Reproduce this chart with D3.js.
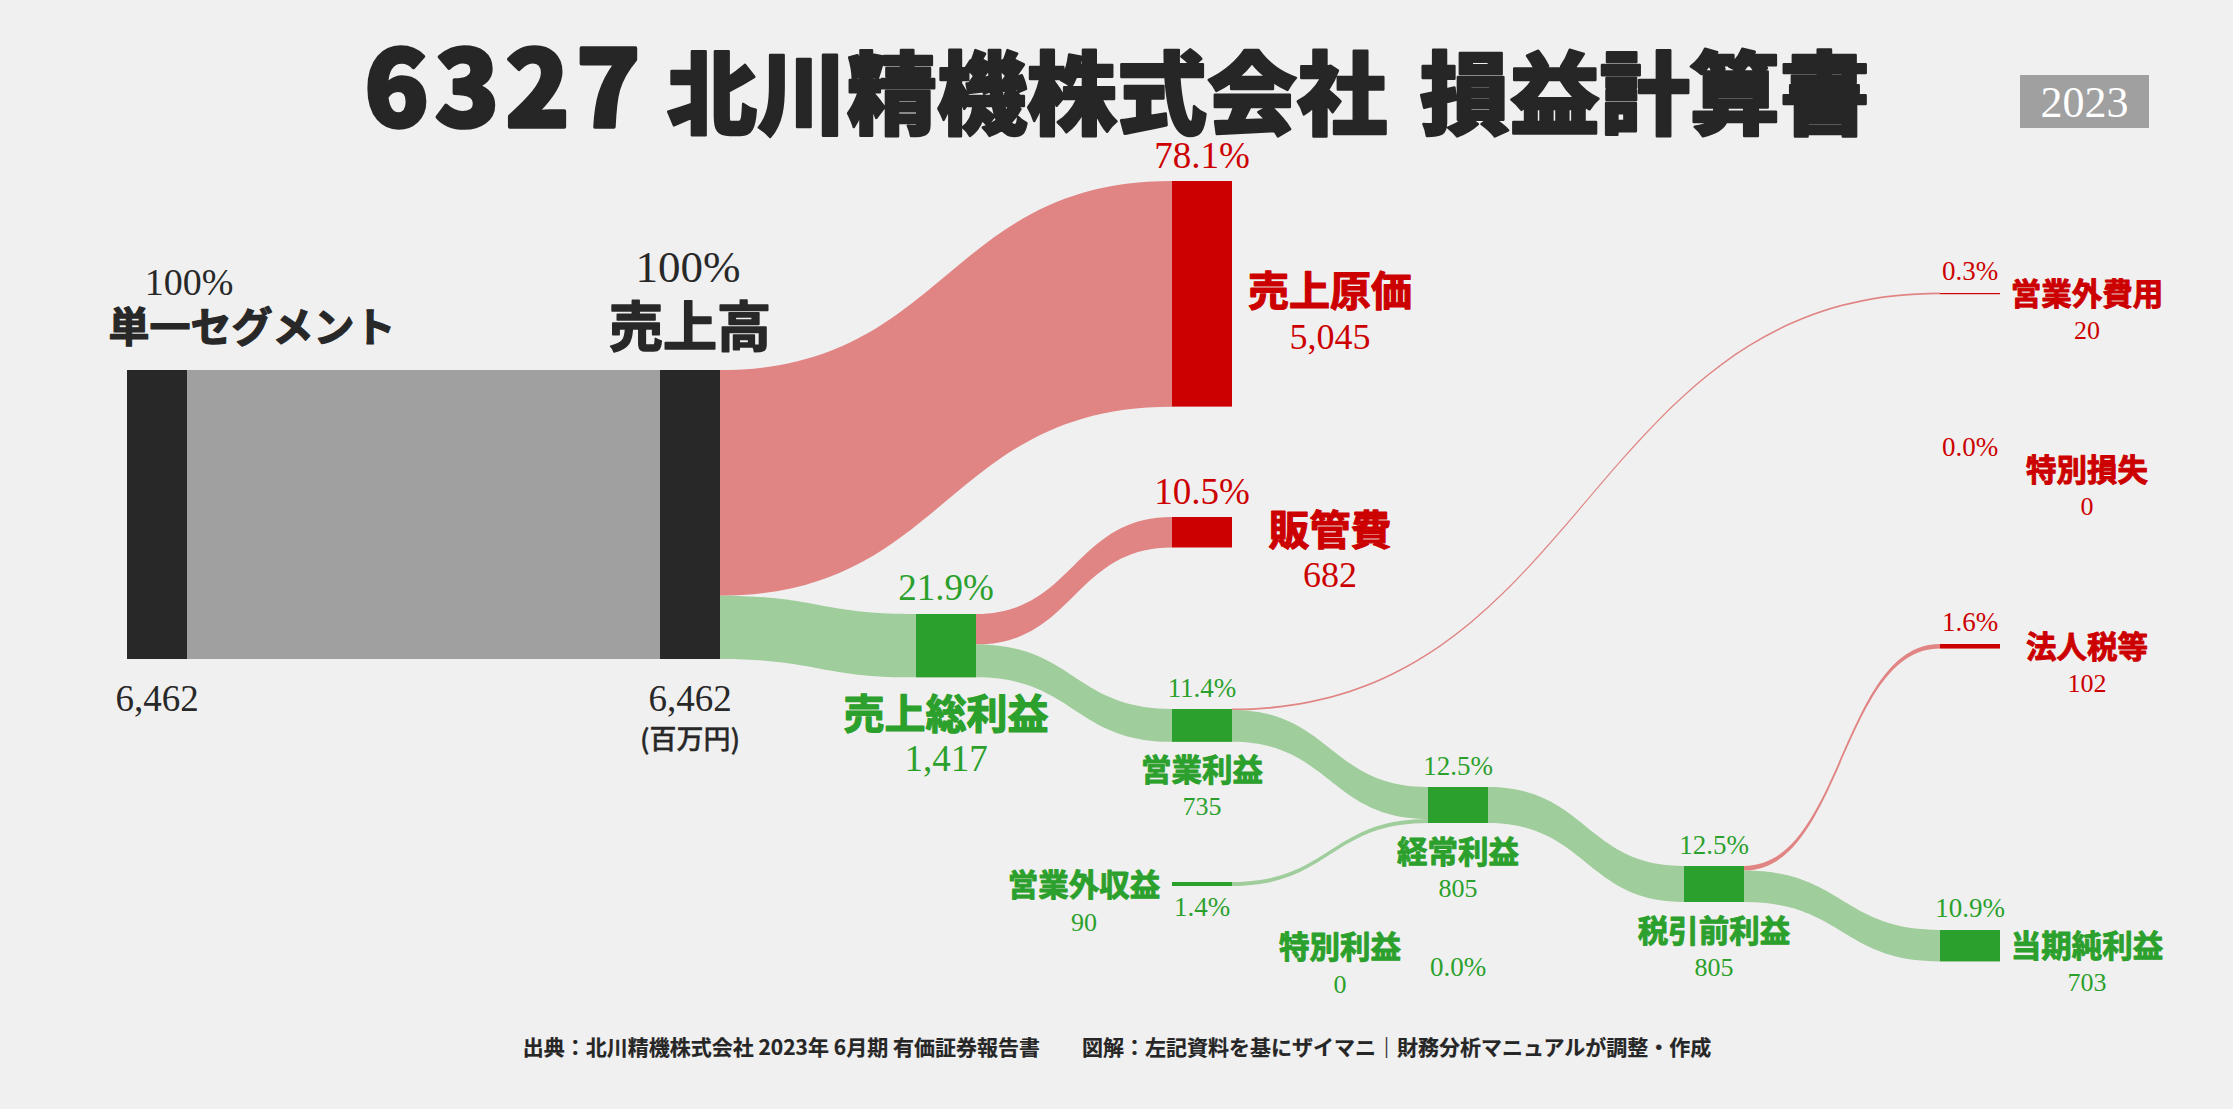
<!DOCTYPE html>
<html>
<head>
<meta charset="utf-8">
<script src="https://cdn.jsdelivr.net/npm/d3@7"></script>
<style>
html,body{margin:0;padding:0;background:#f0f0f0;}
svg{display:block;}
</style>
</head>
<body>
<svg id="chart" width="2233" height="1109"></svg>
<script>
// ---------------- DATA ----------------
const titleCode = "6327";
const titleCompany = "北川精機株式会社";
const titleReport = "損益計算書";
const yearLabel = "2023";
const unitLabel = "(百万円)";
const footerText = "出典：北川精機株式会社 2023年 6月期 有価証券報告書　　図解：左記資料を基にザイマニ｜財務分析マニュアルが調整・作成";

const nodeNames  = ["単一セグメント","売上高","売上原価","売上総利益","販管費","営業利益","営業外収益","営業外費用","経常利益","特別利益","特別損失","税引前利益","法人税等","当期純利益"];
const nodeValues = [6462, 6462, 5045, 1417, 682, 735, 90, 20, 805, 0, 0, 805, 102, 703];
const nodePct    = ["100%","100%","78.1%","21.9%","10.5%","11.4%","1.4%","0.3%","12.5%","0.0%","0.0%","12.5%","1.6%","10.9%"];
const nodeKinds  = ["base","base","cost","profit","cost","profit","profit","cost","profit","profit","cost","profit","cost","profit"];

const linkSource = [0, 1, 1, 3, 3, 5, 5, 6, 8, 11, 11];
const linkTarget = [1, 2, 3, 4, 5, 7, 8, 8, 11, 12, 13];
const linkValues = [6462, 5045, 1417, 682, 735, 20, 715, 90, 805, 102, 703];

// ---------------- LAYOUT (positions / styles) ----------------
const W = 2233, H = 1109;
const nodeCol  = [0, 1, 3, 2, 3, 3, 3, 6, 4, 4, 6, 5, 6, 6];
const nodeTop  = [370, 370, 181, 614, 517, 709, 882, 293, 787, 946, 469, 866, 644, 930];
const nodePlace = ["base0","base1","right","below","right","below","left","right","below","left","right","below","right","right"];
const nodeBig   = [true, true, true, true, true, false, false, false, false, false, false, false, false, false];
const nodeW = 60;

const colColor  = {base: "#282828", cost: "#cc0000", profit: "#2ca02c"};
const linkColor = {base: "#a0a0a0", cost: "#e08583", profit: "#9fcd9b"};
const JP = "'Noto Sans CJK JP','Noto Sans CJK SC',sans-serif";
const SERIF = "'Liberation Serif','DejaVu Serif',serif";

const x = d3.scaleLinear().domain([0, 1, 6]).range([127, 660, 1940]);
const h = d3.scaleLinear().domain([0, 6462]).range([0, 289]);

const svg = d3.select("#chart");
svg.append("rect").attr("width", W).attr("height", H).attr("fill", "#f0f0f0");

const nodes = nodeNames.map((name, i) => {
  const x0 = x(nodeCol[i]);
  const y0 = nodeTop[i];
  return {i, name, value: nodeValues[i], kind: nodeKinds[i],
          x0, x1: x0 + nodeW, y0, y1: y0 + h(nodeValues[i]),
          outY: y0, inY: y0};
});

const links = linkValues.map((v, k) => {
  const s = nodes[linkSource[k]], t = nodes[linkTarget[k]];
  const w = h(v);
  const sy = s.outY; s.outY += w;
  const ty = t.inY;  t.inY += w;
  return {s, t, w, sy, ty, kind: t.kind};
});

function linkPath(l) {
  const xs = l.s.x1, xt = l.t.x0, xm = (xs + xt) / 2;
  let w = l.w, sy = l.sy, ty = l.ty;
  const minW = 1.8;
  if (w < minW) { sy -= (minW - w) / 2; ty -= (minW - w) / 2; w = minW; }
  const p = d3.path();
  p.moveTo(xs, sy);
  p.bezierCurveTo(xm, sy, xm, ty, xt, ty);
  p.lineTo(xt, ty + w);
  p.bezierCurveTo(xm, ty + w, xm, sy + w, xs, sy + w);
  p.closePath();
  return p.toString();
}

svg.append("g").selectAll("path").data(links).join("path")
  .attr("d", linkPath)
  .attr("fill", d => linkColor[d.kind]);

svg.append("g").selectAll("rect").data(nodes.filter(d => d.value > 0)).join("rect")
  .attr("x", d => d.x0).attr("y", d => d.y0)
  .attr("width", nodeW)
  .attr("height", d => Math.max(1.2, d.y1 - d.y0))
  .attr("fill", d => colColor[d.kind]);

// ---------------- TEXT ----------------
function jp(cx, cy, s, size, color, weight, sw) {
  const t = svg.append("text").attr("x", cx).attr("y", cy + 0.38 * size)
    .attr("text-anchor", "middle").attr("font-family", JP)
    .attr("font-weight", weight || 700).attr("font-size", size)
    .attr("fill", color).text(s);
  const strokeW = sw === undefined ? size * 0.03 : sw;
  if (strokeW > 0) t.attr("stroke", color).attr("stroke-width", strokeW).attr("stroke-linejoin", "round");
  return t;
}
function num(cx, cy, s, size, color) {
  return svg.append("text").attr("x", cx).attr("y", cy + 0.33 * size)
    .attr("text-anchor", "middle").attr("font-family", SERIF)
    .attr("font-size", size).attr("fill", color).text(s);
}
const fmt = d3.format(",");

nodes.forEach(n => {
  const c = colColor[n.kind];
  const cx = (n.x0 + n.x1) / 2;
  const cy = (n.y0 + n.y1) / 2;
  const big = nodeBig[n.i];
  const pl = nodePlace[n.i];
  const val = fmt(n.value);
  const pct = nodePct[n.i];
  if (pl === "base0") {
    num(n.x0 + 62, n.y0 - 88, pct, 38, c);
    jp(n.x0 + 125, n.y0 - 44, n.name, 41, c);
    num(cx, n.y1 + 40, val, 37, c);
  } else if (pl === "base1") {
    num(cx - 2, n.y0 - 103, pct, 45, c);
    jp(cx, n.y0 - 44, n.name, 54, c);
    num(cx, n.y1 + 40, val, 37, c);
    jp(cx, n.y1 + 80, unitLabel, 27, c, 500, 0.3);
  } else if (pl === "right") {
    const nx = n.x1 + (big ? 98 : 87);
    const ny = cy - (big ? 3 : 0);
    num(cx, n.y0 - (big ? 25 : 21.5), pct, big ? 37 : 27, c);
    jp(nx, ny, n.name, big ? 41 : 30.5, c);
    num(nx, ny + (big ? 46 : 37), val, big ? 36 : 26, c);
  } else if (pl === "below") {
    num(cx, n.y0 - (big ? 26 : 21), pct, big ? 37 : 27, c);
    const ny = n.y1 + (big ? 36 : 28);
    jp(cx, ny, n.name, big ? 41 : 30.5, c);
    num(cx, ny + (big ? 45 : 37), val, big ? 37 : 26, c);
  } else if (pl === "left") {
    const nx = n.x0 - 88;
    jp(nx, cy, n.name, 30.5, c);
    num(nx, cy + 38, val, 26, c);
    num(cx, n.y1 + 21, pct, 27, c);
  }
});

// title
const title = svg.append("text").attr("x", 1117).attr("y", 127)
  .attr("text-anchor", "middle").attr("font-family", JP)
  .attr("font-weight", 900).attr("fill", "#262626")
  .attr("stroke", "#262626").attr("stroke-linejoin", "round");
title.append("tspan").attr("font-size", 106).attr("letter-spacing", 6).attr("stroke-width", 3.5).text(titleCode);
title.append("tspan").attr("font-size", 90).attr("stroke-width", 2.5).text(" " + titleCompany);
title.append("tspan").attr("font-size", 90).attr("stroke-width", 2.5).attr("dx", 12).text(" " + titleReport);

// year box
svg.append("rect").attr("x", 2020).attr("y", 75).attr("width", 129).attr("height", 53).attr("fill", "#a0a0a0");
num(2084.5, 102, yearLabel, 44, "#ffffff");

// footer
jp(1117, 1047.5, footerText, 21, "#262626", 700, 0.2);
</script>
</body>
</html>
